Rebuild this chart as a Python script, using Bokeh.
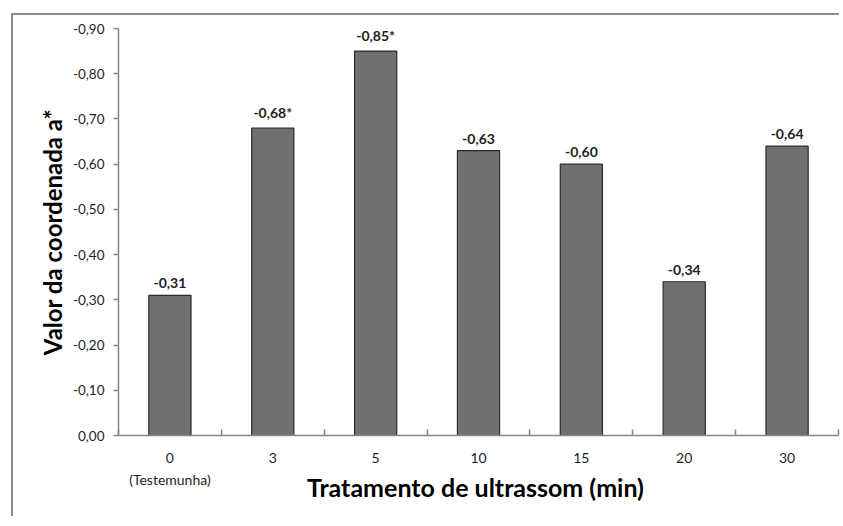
from bokeh.plotting import figure
from bokeh.layouts import column
from bokeh.models import (Range1d, FixedTicker, CustomJSTickFormatter,
                          ColumnDataSource, LabelSet, InlineStyleSheet)
from bokeh.core.properties import value
from bokeh.embed import file_html
from bokeh.resources import INLINE
import numpy as np

categories = ["0", "3", "5", "10", "15", "20", "30"]
control_note = "(Testemunha)"
values = [-0.31, -0.68, -0.85, -0.63, -0.60, -0.34, -0.64]
bar_labels = ["-0,31", "-0,68*", "-0,85*", "-0,63", "-0,60", "-0,34", "-0,64"]
y_ticks = [0.0, -0.1, -0.2, -0.3, -0.4, -0.5, -0.6, -0.7, -0.8, -0.9]
x_title = "Tratamento de ultrassom  (min)"
y_title = "Valor da coordenada a*"

n = len(categories)
xpos = np.arange(n) + 0.5
src = ColumnDataSource(dict(x=xpos, top=values, label=bar_labels))

AX = "#868686"
TXT = "#1e1e1e"
FONT = "Lato"

frame_css = InlineStyleSheet(css=":host { margin-left: 13px; margin-top: 15px; "
                                 "box-shadow: -2px -2px 0 0 #8c8c8c; }")

p = figure(width=828, height=503,
           x_range=Range1d(0, n), y_range=Range1d(0, min(y_ticks)),
           output_backend="svg", toolbar_location=None,
           min_border_left=105, min_border_right=3,
           min_border_top=13, min_border_bottom=83)

p.vbar(x="x", top="top", bottom=0, width=0.41, source=src,
       fill_color="#707070", line_color="#2b2b2b", line_width=1.2)

p.add_layout(LabelSet(x="x", y="top", text="label", source=src,
                      text_align="center", text_baseline="bottom", y_offset=7,
                      text_font=value(FONT), text_font_style="bold",
                      text_font_size="14px", text_color=TXT))

p.xgrid.visible = False
p.ygrid.visible = False
p.outline_line_color = None

# x axis
xa = p.xaxis[0]
xa.ticker = FixedTicker(ticks=list(xpos), minor_ticks=list(range(n + 1)))
xa.formatter = CustomJSTickFormatter(
    args=dict(cats=categories, note=control_note),
    code="var i = Math.floor(tick); return i == 0 ? cats[i] + '\\n' + note : cats[i];")
xa.axis_line_color = AX
xa.axis_line_width = 1.5
xa.major_tick_line_color = None
xa.minor_tick_line_color = AX
xa.minor_tick_line_width = 1.5
xa.minor_tick_in = 6
xa.minor_tick_out = 0
xa.major_label_standoff = 7
xa.major_label_text_font = FONT
xa.major_label_text_font_size = "14px"
xa.major_label_text_color = TXT
xa.major_label_text_line_height = 1.35
xa.axis_label = x_title
xa.axis_label_text_font = FONT
xa.axis_label_text_font_style = "bold"
xa.axis_label_text_font_size = "25px"
xa.axis_label_text_color = "#000000"
xa.axis_label_standoff = -19

# y axis
ya = p.yaxis[0]
ya.ticker = FixedTicker(ticks=y_ticks)
ya.formatter = CustomJSTickFormatter(code="return tick.toFixed(2).replace('.', ',');")
ya.axis_line_color = AX
ya.axis_line_width = 1.5
ya.major_tick_line_color = AX
ya.major_tick_line_width = 1.5
ya.major_tick_in = 0
ya.major_tick_out = 5
ya.minor_tick_line_color = None
ya.major_label_standoff = 9
ya.major_label_text_font = FONT
ya.major_label_text_font_size = "13.5px"
ya.major_label_text_color = TXT
ya.axis_label = y_title
ya.axis_label_text_font = FONT
ya.axis_label_text_font_style = "bold"
ya.axis_label_text_font_size = "24px"
ya.axis_label_text_color = "#000000"
ya.axis_label_standoff = 3

layout = column(p, stylesheets=[frame_css])

open("out.html", "w").write(file_html(layout, INLINE))
